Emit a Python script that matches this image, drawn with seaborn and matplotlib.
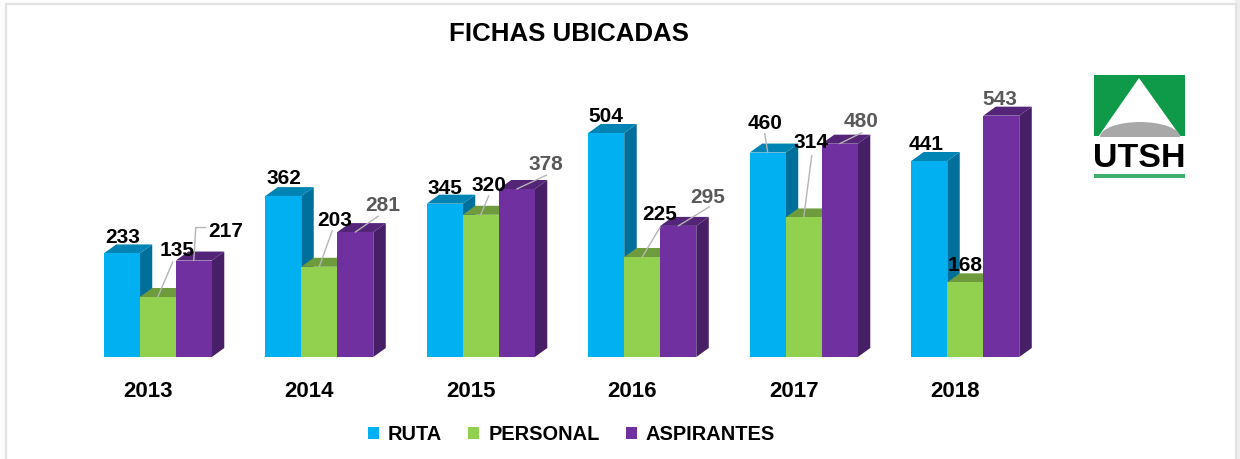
import pandas as pd
import matplotlib
matplotlib.use('Agg')
import matplotlib.pyplot as plt
from matplotlib.lines import Line2D
from matplotlib.patches import Polygon, Rectangle, Ellipse
from matplotlib.transforms import IdentityTransform, ScaledTranslation
import seaborn as sns

# Data
years = ['2013', '2014', '2015', '2016', '2017', '2018']
ruta = [233, 362, 345, 504, 460, 441]
personal = [135, 203, 320, 225, 314, 168]
aspirantes = [217, 281, 378, 295, 480, 543]

series_names = ['RUTA', 'PERSONAL', 'ASPIRANTES']
front_colors = ['#00B0F0', '#92D050', '#7030A0']
top_colors = ['#0084B4', '#6E9C3C', '#542478']
side_colors = ['#00709A', '#5E8533', '#471F66']

# Label layout: pixels from the top centre of each bar
label_offsets = {
    'RUTA': [(1, 16), (1, 18), (0, 15), (0, 16), (-3, 29), (-3, 16)],
    'PERSONAL': [(19, 46), (15, 46), (8, 29), (17, 42), (7, 75), (0, 17)],
    'ASPIRANTES': [(32, 29), (27, 27), (29, 24), (29, 28), (21, 22), (-1, 16)],
}
label_colors = {
    'RUTA': ['black'] * 6,
    'PERSONAL': ['black'] * 6,
    'ASPIRANTES': ['black', '#595959', '#595959', '#595959', '#595959', '#595959'],
}
# Leader lines, also in pixels from the top centre of the bar
leaders = {
    'RUTA': [None, None, None, None, [(-3, 19), (0, 0)], None],
    'PERSONAL': [[(15, 35), (0, 0)], [(13, 36), (0, 0)], [(8, 19), (0, 0)],
                 [(18, 30), (0, 0)], [(8, 62), (0, 0)], None],
    'ASPIRANTES': [[(12, 33), (2, 33), (0, 0)], [(23, 16), (0, 0)], [(30, 14), (0, 0)],
                   [(31, 19), (0, 0)], [(22, 11), (0, 0)], None],
}

W, H = 1240, 459
PX_PER_UNIT = 224 / 504
GROUP_PX = 161.5
DEPTH_X, DEPTH_Y = 12.5, 9

df = pd.DataFrame({
    'year': years * 3,
    'serie': [n for n in series_names for _ in years],
    'fichas': ruta + personal + aspirantes,
})

sns.set_theme(style='white')
plt.rcParams['font.family'] = ['Liberation Sans', 'DejaVu Sans']
plt.rcParams['font.weight'] = 'bold'
plt.rcParams['text.color'] = 'black'
plt.rcParams['xtick.labelcolor'] = 'black'

fig = plt.figure(figsize=(W / 100, H / 100), dpi=100, facecolor='#fcfcfc')

# Background sheet and logo share one axes in pixel coordinates
bg = fig.add_axes([0, 0, 1, 1], zorder=0)
bg.set_xlim(0, W)
bg.set_ylim(H, 0)
bg.axis('off')
bg.add_patch(Rectangle((1235, 0), 5, H, color='#eeeeee', lw=0))
bg.add_patch(Rectangle((5.5, 4), 1230, H, facecolor='white', edgecolor='#e2e2e2', lw=1.6))

bg.add_patch(Rectangle((1094, 75), 91, 61, color='#0E9A48', lw=0))
bg.add_patch(Polygon([(1139, 78), (1098, 137), (1181, 137)], color='white', lw=0))
dome = Ellipse((1140, 137), 80, 30, color='#A8A8A8', lw=0)
bg.add_patch(dome)
dome.set_clip_path(Rectangle((1094, 75), 91, 62, transform=bg.transData))
bg.text(1139.5, 158.5, 'UTSH', ha='center', va='center', fontsize=24.5, color='black')
bg.add_patch(Rectangle((1094, 174), 91, 4, color='#3FAE6E', lw=0))

# Chart axes: baseline at y=357 px, one category every GROUP_PX
ax_left, ax_w = 77, GROUP_PX * 6
ax_top, ax_bottom = 60, 357
ax = fig.add_axes([ax_left / W, (H - ax_bottom) / H, ax_w / W, (ax_bottom - ax_top) / H], zorder=1)
ax.patch.set_alpha(0)

sns.barplot(data=df, x='year', y='fichas', hue='serie', hue_order=series_names,
            palette=front_colors, saturation=1, width=0.669, ax=ax, linewidth=0)
ax.set_xlim(-0.5, 5.5)
ax.set_ylim(0, (ax_bottom - ax_top) / PX_PER_UNIT)
ax.set_xlabel('')
ax.set_ylabel('')
ax.set_yticks([])
sns.despine(ax=ax, left=True, bottom=True)

dx = DEPTH_X / GROUP_PX
dy = DEPTH_Y / PX_PER_UNIT

for i, (name, container) in enumerate(zip(series_names, ax.containers)):
    z = 2 + i
    for j, bar in enumerate(container):
        x0, x1 = bar.get_x(), bar.get_x() + bar.get_width()
        h = bar.get_height()
        bar.set_zorder(z + 0.5)
        ax.add_patch(Polygon([(x1, 0), (x1 + dx, dy), (x1 + dx, h + dy), (x1, h)],
                             facecolor=side_colors[i], lw=0, zorder=z, clip_on=False))
        ax.add_patch(Polygon([(x0, h), (x0 + dx, h + dy), (x1 + dx, h + dy), (x1, h)],
                             facecolor=top_colors[i], lw=0, zorder=z, clip_on=False))

        anchor = (x0 + bar.get_width() / 2, h)
        ox, oy = label_offsets[name][j]
        ax.annotate(str(int(h)), xy=anchor, xytext=(ox, oy), textcoords='offset pixels',
                    ha='center', va='center', fontsize=15, color=label_colors[name][j],
                    zorder=8, annotation_clip=False)
        path = leaders[name][j]
        if path:
            px, py = ax.transData.transform(anchor)
            ax.add_line(Line2D([px + p[0] for p in path], [py + p[1] for p in path],
                               transform=IdentityTransform(), color='#B5B5B5', lw=1,
                               zorder=7, clip_on=False))

# Year labels sit a little left of the group centre
ax.tick_params(axis='x', length=0, pad=17, labelsize=16, labelcolor='black')
for lab in ax.get_xticklabels():
    lab.set_transform(lab.get_transform() + ScaledTranslation(-10 / 100, 0, fig.dpi_scale_trans))

sns.move_legend(ax, 'center', bbox_to_anchor=(571.5 / W, (H - 435) / H), bbox_transform=fig.transFigure,
                ncol=3, frameon=False, title=None, fontsize=14.4, handlelength=0.55, handleheight=0.55,
                handletextpad=0.45, columnspacing=1.3, borderpad=0, borderaxespad=0, labelcolor='black')

fig.text(569 / W, 1 - 34 / H, 'FICHAS UBICADAS', ha='center', va='center', fontsize=18.6, color='black')

fig.savefig('out.png', dpi=100)
